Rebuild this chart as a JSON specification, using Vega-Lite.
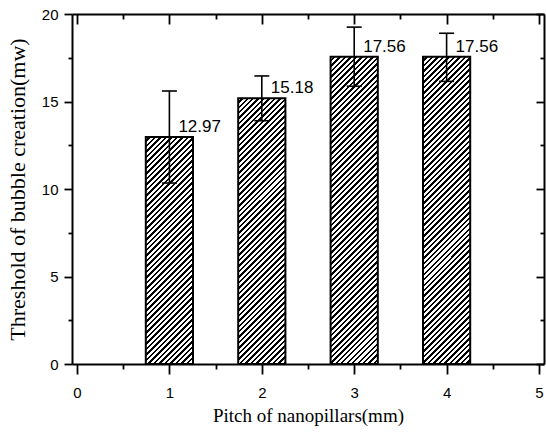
{
"$schema": "https://vega.github.io/schema/vega-lite/v6.json",
"width": 472, "height": 350,
"autosize": "none",
"padding": {"left": 72, "top": 14, "right": 2, "bottom": 72},
"background": "white",
"config": {"view": {"stroke": null}, "axis": {"grid": false, "domainColor": "black", "tickColor": "black", "labelColor": "black", "titleColor": "black", "domainWidth": 2, "tickWidth": 1.8, "labelFont": "Liberation Sans", "labelFontSize": 15, "titleFont": "Liberation Serif", "titleFontWeight": "normal"}},
"data": {"values": [
{"x": 1, "y": 12.97, "lo": 10.34, "hi": 15.6, "label": "12.97"},
{"x": 2, "y": 15.18, "lo": 13.9, "hi": 16.46, "label": "15.18"},
{"x": 3, "y": 17.56, "lo": 15.87, "hi": 19.25, "label": "17.56"},
{"x": 4, "y": 17.56, "lo": 16.15, "hi": 18.9, "label": "17.56"}
]},
"resolve": {"axis": {"x": "independent", "y": "independent"}},
"encoding": {"x": {"field": "x", "type": "quantitative", "scale": {"domain": [0, 5], "nice": false}, "axis": null}},
"layer": [
{"transform": [{"filter": "datum.x == 1"}],
 "mark": {"type": "bar", "orient": "vertical", "width": 47.2, "stroke": "black", "strokeWidth": 2,
 "fill": {"gradient": "linear", "x1": 0, "y1": 0, "x2": 0.24075, "y2": 1.1578, "stops": [
{"offset":0,"color":"#fff"},{"offset":0.011,"color":"#fff"},{"offset":0.011,"color":"#000"},{"offset":0.02,"color":"#000"},
{"offset":0.02,"color":"#fff"},{"offset":0.031,"color":"#fff"},{"offset":0.031,"color":"#000"},{"offset":0.04,"color":"#000"},
{"offset":0.04,"color":"#fff"},{"offset":0.051,"color":"#fff"},{"offset":0.051,"color":"#000"},{"offset":0.06,"color":"#000"},
{"offset":0.06,"color":"#fff"},{"offset":0.071,"color":"#fff"},{"offset":0.071,"color":"#000"},{"offset":0.08,"color":"#000"},
{"offset":0.08,"color":"#fff"},{"offset":0.091,"color":"#fff"},{"offset":0.091,"color":"#000"},{"offset":0.1,"color":"#000"},
{"offset":0.1,"color":"#fff"},{"offset":0.111,"color":"#fff"},{"offset":0.111,"color":"#000"},{"offset":0.12,"color":"#000"},
{"offset":0.12,"color":"#fff"},{"offset":0.131,"color":"#fff"},{"offset":0.131,"color":"#000"},{"offset":0.14,"color":"#000"},
{"offset":0.14,"color":"#fff"},{"offset":0.151,"color":"#fff"},{"offset":0.151,"color":"#000"},{"offset":0.16,"color":"#000"},
{"offset":0.16,"color":"#fff"},{"offset":0.171,"color":"#fff"},{"offset":0.171,"color":"#000"},{"offset":0.18,"color":"#000"},
{"offset":0.18,"color":"#fff"},{"offset":0.191,"color":"#fff"},{"offset":0.191,"color":"#000"},{"offset":0.2,"color":"#000"},
{"offset":0.2,"color":"#fff"},{"offset":0.211,"color":"#fff"},{"offset":0.211,"color":"#000"},{"offset":0.22,"color":"#000"},
{"offset":0.22,"color":"#fff"},{"offset":0.231,"color":"#fff"},{"offset":0.231,"color":"#000"},{"offset":0.24,"color":"#000"},
{"offset":0.24,"color":"#fff"},{"offset":0.251,"color":"#fff"},{"offset":0.251,"color":"#000"},{"offset":0.26,"color":"#000"},
{"offset":0.26,"color":"#fff"},{"offset":0.271,"color":"#fff"},{"offset":0.271,"color":"#000"},{"offset":0.28,"color":"#000"},
{"offset":0.28,"color":"#fff"},{"offset":0.291,"color":"#fff"},{"offset":0.291,"color":"#000"},{"offset":0.3,"color":"#000"},
{"offset":0.3,"color":"#fff"},{"offset":0.311,"color":"#fff"},{"offset":0.311,"color":"#000"},{"offset":0.32,"color":"#000"},
{"offset":0.32,"color":"#fff"},{"offset":0.331,"color":"#fff"},{"offset":0.331,"color":"#000"},{"offset":0.34,"color":"#000"},
{"offset":0.34,"color":"#fff"},{"offset":0.351,"color":"#fff"},{"offset":0.351,"color":"#000"},{"offset":0.36,"color":"#000"},
{"offset":0.36,"color":"#fff"},{"offset":0.371,"color":"#fff"},{"offset":0.371,"color":"#000"},{"offset":0.38,"color":"#000"},
{"offset":0.38,"color":"#fff"},{"offset":0.391,"color":"#fff"},{"offset":0.391,"color":"#000"},{"offset":0.4,"color":"#000"},
{"offset":0.4,"color":"#fff"},{"offset":0.411,"color":"#fff"},{"offset":0.411,"color":"#000"},{"offset":0.42,"color":"#000"},
{"offset":0.42,"color":"#fff"},{"offset":0.431,"color":"#fff"},{"offset":0.431,"color":"#000"},{"offset":0.44,"color":"#000"},
{"offset":0.44,"color":"#fff"},{"offset":0.451,"color":"#fff"},{"offset":0.451,"color":"#000"},{"offset":0.46,"color":"#000"},
{"offset":0.46,"color":"#fff"},{"offset":0.471,"color":"#fff"},{"offset":0.471,"color":"#000"},{"offset":0.48,"color":"#000"},
{"offset":0.48,"color":"#fff"},{"offset":0.491,"color":"#fff"},{"offset":0.491,"color":"#000"},{"offset":0.5,"color":"#000"},
{"offset":0.5,"color":"#fff"},{"offset":0.511,"color":"#fff"},{"offset":0.511,"color":"#000"},{"offset":0.52,"color":"#000"},
{"offset":0.52,"color":"#fff"},{"offset":0.531,"color":"#fff"},{"offset":0.531,"color":"#000"},{"offset":0.54,"color":"#000"},
{"offset":0.54,"color":"#fff"},{"offset":0.551,"color":"#fff"},{"offset":0.551,"color":"#000"},{"offset":0.56,"color":"#000"},
{"offset":0.56,"color":"#fff"},{"offset":0.571,"color":"#fff"},{"offset":0.571,"color":"#000"},{"offset":0.58,"color":"#000"},
{"offset":0.58,"color":"#fff"},{"offset":0.591,"color":"#fff"},{"offset":0.591,"color":"#000"},{"offset":0.6,"color":"#000"},
{"offset":0.6,"color":"#fff"},{"offset":0.611,"color":"#fff"},{"offset":0.611,"color":"#000"},{"offset":0.62,"color":"#000"},
{"offset":0.62,"color":"#fff"},{"offset":0.631,"color":"#fff"},{"offset":0.631,"color":"#000"},{"offset":0.64,"color":"#000"},
{"offset":0.64,"color":"#fff"},{"offset":0.651,"color":"#fff"},{"offset":0.651,"color":"#000"},{"offset":0.66,"color":"#000"},
{"offset":0.66,"color":"#fff"},{"offset":0.671,"color":"#fff"},{"offset":0.671,"color":"#000"},{"offset":0.68,"color":"#000"},
{"offset":0.68,"color":"#fff"},{"offset":0.691,"color":"#fff"},{"offset":0.691,"color":"#000"},{"offset":0.7,"color":"#000"},
{"offset":0.7,"color":"#fff"},{"offset":0.711,"color":"#fff"},{"offset":0.711,"color":"#000"},{"offset":0.72,"color":"#000"},
{"offset":0.72,"color":"#fff"},{"offset":0.731,"color":"#fff"},{"offset":0.731,"color":"#000"},{"offset":0.74,"color":"#000"},
{"offset":0.74,"color":"#fff"},{"offset":0.751,"color":"#fff"},{"offset":0.751,"color":"#000"},{"offset":0.76,"color":"#000"},
{"offset":0.76,"color":"#fff"},{"offset":0.771,"color":"#fff"},{"offset":0.771,"color":"#000"},{"offset":0.78,"color":"#000"},
{"offset":0.78,"color":"#fff"},{"offset":0.791,"color":"#fff"},{"offset":0.791,"color":"#000"},{"offset":0.8,"color":"#000"},
{"offset":0.8,"color":"#fff"},{"offset":0.811,"color":"#fff"},{"offset":0.811,"color":"#000"},{"offset":0.82,"color":"#000"},
{"offset":0.82,"color":"#fff"},{"offset":0.831,"color":"#fff"},{"offset":0.831,"color":"#000"},{"offset":0.84,"color":"#000"},
{"offset":0.84,"color":"#fff"},{"offset":0.851,"color":"#fff"},{"offset":0.851,"color":"#000"},{"offset":0.86,"color":"#000"},
{"offset":0.86,"color":"#fff"},{"offset":0.871,"color":"#fff"},{"offset":0.871,"color":"#000"},{"offset":0.88,"color":"#000"},
{"offset":0.88,"color":"#fff"},{"offset":0.891,"color":"#fff"},{"offset":0.891,"color":"#000"},{"offset":0.9,"color":"#000"},
{"offset":0.9,"color":"#fff"},{"offset":0.911,"color":"#fff"},{"offset":0.911,"color":"#000"},{"offset":0.92,"color":"#000"},
{"offset":0.92,"color":"#fff"},{"offset":0.931,"color":"#fff"},{"offset":0.931,"color":"#000"},{"offset":0.94,"color":"#000"},
{"offset":0.94,"color":"#fff"},{"offset":0.951,"color":"#fff"},{"offset":0.951,"color":"#000"},{"offset":0.96,"color":"#000"},
{"offset":0.96,"color":"#fff"},{"offset":0.971,"color":"#fff"},{"offset":0.971,"color":"#000"},{"offset":0.98,"color":"#000"},
{"offset":0.98,"color":"#fff"},{"offset":0.991,"color":"#fff"},{"offset":0.991,"color":"#000"},{"offset":1,"color":"#000"}
]}},
 "encoding": {"y": {"field": "y", "type": "quantitative", "scale": {"domain": [0, 20], "nice": false}, "axis": null}}},
{"transform": [{"filter": "datum.x == 2"}],
 "mark": {"type": "bar", "orient": "vertical", "width": 47.2, "stroke": "black", "strokeWidth": 2,
 "fill": {"gradient": "linear", "x1": 0, "y1": 0, "x2": 0.20284, "y2": 1.14163, "stops": [
{"offset":0,"color":"#fff"},{"offset":0.0096,"color":"#fff"},{"offset":0.0096,"color":"#000"},{"offset":0.0175,"color":"#000"},
{"offset":0.0175,"color":"#fff"},{"offset":0.0271,"color":"#fff"},{"offset":0.0271,"color":"#000"},{"offset":0.035,"color":"#000"},
{"offset":0.035,"color":"#fff"},{"offset":0.0446,"color":"#fff"},{"offset":0.0446,"color":"#000"},{"offset":0.0525,"color":"#000"},
{"offset":0.0525,"color":"#fff"},{"offset":0.0621,"color":"#fff"},{"offset":0.0621,"color":"#000"},{"offset":0.07,"color":"#000"},
{"offset":0.07,"color":"#fff"},{"offset":0.0796,"color":"#fff"},{"offset":0.0796,"color":"#000"},{"offset":0.0875,"color":"#000"},
{"offset":0.0875,"color":"#fff"},{"offset":0.0971,"color":"#fff"},{"offset":0.0971,"color":"#000"},{"offset":0.105,"color":"#000"},
{"offset":0.105,"color":"#fff"},{"offset":0.1146,"color":"#fff"},{"offset":0.1146,"color":"#000"},{"offset":0.1225,"color":"#000"},
{"offset":0.1225,"color":"#fff"},{"offset":0.1321,"color":"#fff"},{"offset":0.1321,"color":"#000"},{"offset":0.14,"color":"#000"},
{"offset":0.14,"color":"#fff"},{"offset":0.1496,"color":"#fff"},{"offset":0.1496,"color":"#000"},{"offset":0.1575,"color":"#000"},
{"offset":0.1575,"color":"#fff"},{"offset":0.1671,"color":"#fff"},{"offset":0.1671,"color":"#000"},{"offset":0.175,"color":"#000"},
{"offset":0.175,"color":"#fff"},{"offset":0.1846,"color":"#fff"},{"offset":0.1846,"color":"#000"},{"offset":0.1925,"color":"#000"},
{"offset":0.1925,"color":"#fff"},{"offset":0.2021,"color":"#fff"},{"offset":0.2021,"color":"#000"},{"offset":0.21,"color":"#000"},
{"offset":0.21,"color":"#fff"},{"offset":0.2196,"color":"#fff"},{"offset":0.2196,"color":"#000"},{"offset":0.2275,"color":"#000"},
{"offset":0.2275,"color":"#fff"},{"offset":0.2371,"color":"#fff"},{"offset":0.2371,"color":"#000"},{"offset":0.245,"color":"#000"},
{"offset":0.245,"color":"#fff"},{"offset":0.2546,"color":"#fff"},{"offset":0.2546,"color":"#000"},{"offset":0.2625,"color":"#000"},
{"offset":0.2625,"color":"#fff"},{"offset":0.2721,"color":"#fff"},{"offset":0.2721,"color":"#000"},{"offset":0.28,"color":"#000"},
{"offset":0.28,"color":"#fff"},{"offset":0.2896,"color":"#fff"},{"offset":0.2896,"color":"#000"},{"offset":0.2975,"color":"#000"},
{"offset":0.2975,"color":"#fff"},{"offset":0.3071,"color":"#fff"},{"offset":0.3071,"color":"#000"},{"offset":0.315,"color":"#000"},
{"offset":0.315,"color":"#fff"},{"offset":0.3246,"color":"#fff"},{"offset":0.3246,"color":"#000"},{"offset":0.3325,"color":"#000"},
{"offset":0.3325,"color":"#fff"},{"offset":0.3421,"color":"#fff"},{"offset":0.3421,"color":"#000"},{"offset":0.35,"color":"#000"},
{"offset":0.35,"color":"#fff"},{"offset":0.3596,"color":"#fff"},{"offset":0.3596,"color":"#000"},{"offset":0.3675,"color":"#000"},
{"offset":0.3675,"color":"#fff"},{"offset":0.3771,"color":"#fff"},{"offset":0.3771,"color":"#000"},{"offset":0.385,"color":"#000"},
{"offset":0.385,"color":"#fff"},{"offset":0.3946,"color":"#fff"},{"offset":0.3946,"color":"#000"},{"offset":0.4025,"color":"#000"},
{"offset":0.4025,"color":"#fff"},{"offset":0.4121,"color":"#fff"},{"offset":0.4121,"color":"#000"},{"offset":0.42,"color":"#000"},
{"offset":0.42,"color":"#fff"},{"offset":0.4296,"color":"#fff"},{"offset":0.4296,"color":"#000"},{"offset":0.4375,"color":"#000"},
{"offset":0.4375,"color":"#fff"},{"offset":0.4471,"color":"#fff"},{"offset":0.4471,"color":"#000"},{"offset":0.455,"color":"#000"},
{"offset":0.455,"color":"#fff"},{"offset":0.4646,"color":"#fff"},{"offset":0.4646,"color":"#000"},{"offset":0.4725,"color":"#000"},
{"offset":0.4725,"color":"#fff"},{"offset":0.4821,"color":"#fff"},{"offset":0.4821,"color":"#000"},{"offset":0.49,"color":"#000"},
{"offset":0.49,"color":"#fff"},{"offset":0.4996,"color":"#fff"},{"offset":0.4996,"color":"#000"},{"offset":0.5075,"color":"#000"},
{"offset":0.5075,"color":"#fff"},{"offset":0.5171,"color":"#fff"},{"offset":0.5171,"color":"#000"},{"offset":0.525,"color":"#000"},
{"offset":0.525,"color":"#fff"},{"offset":0.5346,"color":"#fff"},{"offset":0.5346,"color":"#000"},{"offset":0.5425,"color":"#000"},
{"offset":0.5425,"color":"#fff"},{"offset":0.5521,"color":"#fff"},{"offset":0.5521,"color":"#000"},{"offset":0.56,"color":"#000"},
{"offset":0.56,"color":"#fff"},{"offset":0.5696,"color":"#fff"},{"offset":0.5696,"color":"#000"},{"offset":0.5775,"color":"#000"},
{"offset":0.5775,"color":"#fff"},{"offset":0.5871,"color":"#fff"},{"offset":0.5871,"color":"#000"},{"offset":0.595,"color":"#000"},
{"offset":0.595,"color":"#fff"},{"offset":0.6046,"color":"#fff"},{"offset":0.6046,"color":"#000"},{"offset":0.6125,"color":"#000"},
{"offset":0.6125,"color":"#fff"},{"offset":0.6221,"color":"#fff"},{"offset":0.6221,"color":"#000"},{"offset":0.63,"color":"#000"},
{"offset":0.63,"color":"#fff"},{"offset":0.6396,"color":"#fff"},{"offset":0.6396,"color":"#000"},{"offset":0.6475,"color":"#000"},
{"offset":0.6475,"color":"#fff"},{"offset":0.6571,"color":"#fff"},{"offset":0.6571,"color":"#000"},{"offset":0.665,"color":"#000"},
{"offset":0.665,"color":"#fff"},{"offset":0.6746,"color":"#fff"},{"offset":0.6746,"color":"#000"},{"offset":0.6825,"color":"#000"},
{"offset":0.6825,"color":"#fff"},{"offset":0.6921,"color":"#fff"},{"offset":0.6921,"color":"#000"},{"offset":0.7,"color":"#000"},
{"offset":0.7,"color":"#fff"},{"offset":0.7096,"color":"#fff"},{"offset":0.7096,"color":"#000"},{"offset":0.7175,"color":"#000"},
{"offset":0.7175,"color":"#fff"},{"offset":0.7271,"color":"#fff"},{"offset":0.7271,"color":"#000"},{"offset":0.735,"color":"#000"},
{"offset":0.735,"color":"#fff"},{"offset":0.7446,"color":"#fff"},{"offset":0.7446,"color":"#000"},{"offset":0.7525,"color":"#000"},
{"offset":0.7525,"color":"#fff"},{"offset":0.7621,"color":"#fff"},{"offset":0.7621,"color":"#000"},{"offset":0.77,"color":"#000"},
{"offset":0.77,"color":"#fff"},{"offset":0.7796,"color":"#fff"},{"offset":0.7796,"color":"#000"},{"offset":0.7875,"color":"#000"},
{"offset":0.7875,"color":"#fff"},{"offset":0.7971,"color":"#fff"},{"offset":0.7971,"color":"#000"},{"offset":0.805,"color":"#000"},
{"offset":0.805,"color":"#fff"},{"offset":0.8146,"color":"#fff"},{"offset":0.8146,"color":"#000"},{"offset":0.8225,"color":"#000"},
{"offset":0.8225,"color":"#fff"},{"offset":0.8321,"color":"#fff"},{"offset":0.8321,"color":"#000"},{"offset":0.84,"color":"#000"},
{"offset":0.84,"color":"#fff"},{"offset":0.8496,"color":"#fff"},{"offset":0.8496,"color":"#000"},{"offset":0.8575,"color":"#000"},
{"offset":0.8575,"color":"#fff"},{"offset":0.8671,"color":"#fff"},{"offset":0.8671,"color":"#000"},{"offset":0.875,"color":"#000"},
{"offset":0.875,"color":"#fff"},{"offset":0.8846,"color":"#fff"},{"offset":0.8846,"color":"#000"},{"offset":0.8925,"color":"#000"},
{"offset":0.8925,"color":"#fff"},{"offset":0.9021,"color":"#fff"},{"offset":0.9021,"color":"#000"},{"offset":0.91,"color":"#000"},
{"offset":0.91,"color":"#fff"},{"offset":0.9196,"color":"#fff"},{"offset":0.9196,"color":"#000"},{"offset":0.9275,"color":"#000"},
{"offset":0.9275,"color":"#fff"},{"offset":0.9371,"color":"#fff"},{"offset":0.9371,"color":"#000"},{"offset":0.945,"color":"#000"},
{"offset":0.945,"color":"#fff"},{"offset":0.9546,"color":"#fff"},{"offset":0.9546,"color":"#000"},{"offset":0.9625,"color":"#000"},
{"offset":0.9625,"color":"#fff"},{"offset":0.9721,"color":"#fff"},{"offset":0.9721,"color":"#000"},{"offset":0.98,"color":"#000"},
{"offset":0.98,"color":"#fff"},{"offset":0.9896,"color":"#fff"},{"offset":0.9896,"color":"#000"},{"offset":0.9975,"color":"#000"},
{"offset":0.9975,"color":"#fff"},{"offset":1,"color":"#fff"}
]}},
 "encoding": {"y": {"field": "y", "type": "quantitative", "scale": {"domain": [0, 20], "nice": false}, "axis": null}}},
{"transform": [{"filter": "datum.x >= 3"}],
 "mark": {"type": "bar", "orient": "vertical", "width": 47.2, "stroke": "black", "strokeWidth": 2,
 "fill": {"gradient": "linear", "x1": 0, "y1": 0, "x2": 0.17311, "y2": 1.12702, "stops": [
{"offset":0,"color":"#fff"},{"offset":0.0085,"color":"#fff"},{"offset":0.0085,"color":"#000"},{"offset":0.0155,"color":"#000"},
{"offset":0.0155,"color":"#fff"},{"offset":0.024,"color":"#fff"},{"offset":0.024,"color":"#000"},{"offset":0.031,"color":"#000"},
{"offset":0.031,"color":"#fff"},{"offset":0.0395,"color":"#fff"},{"offset":0.0395,"color":"#000"},{"offset":0.0465,"color":"#000"},
{"offset":0.0465,"color":"#fff"},{"offset":0.055,"color":"#fff"},{"offset":0.055,"color":"#000"},{"offset":0.062,"color":"#000"},
{"offset":0.062,"color":"#fff"},{"offset":0.0705,"color":"#fff"},{"offset":0.0705,"color":"#000"},{"offset":0.0775,"color":"#000"},
{"offset":0.0775,"color":"#fff"},{"offset":0.086,"color":"#fff"},{"offset":0.086,"color":"#000"},{"offset":0.093,"color":"#000"},
{"offset":0.093,"color":"#fff"},{"offset":0.1015,"color":"#fff"},{"offset":0.1015,"color":"#000"},{"offset":0.1085,"color":"#000"},
{"offset":0.1085,"color":"#fff"},{"offset":0.117,"color":"#fff"},{"offset":0.117,"color":"#000"},{"offset":0.124,"color":"#000"},
{"offset":0.124,"color":"#fff"},{"offset":0.1325,"color":"#fff"},{"offset":0.1325,"color":"#000"},{"offset":0.1395,"color":"#000"},
{"offset":0.1395,"color":"#fff"},{"offset":0.148,"color":"#fff"},{"offset":0.148,"color":"#000"},{"offset":0.155,"color":"#000"},
{"offset":0.155,"color":"#fff"},{"offset":0.1635,"color":"#fff"},{"offset":0.1635,"color":"#000"},{"offset":0.1705,"color":"#000"},
{"offset":0.1705,"color":"#fff"},{"offset":0.179,"color":"#fff"},{"offset":0.179,"color":"#000"},{"offset":0.186,"color":"#000"},
{"offset":0.186,"color":"#fff"},{"offset":0.1945,"color":"#fff"},{"offset":0.1945,"color":"#000"},{"offset":0.2015,"color":"#000"},
{"offset":0.2015,"color":"#fff"},{"offset":0.21,"color":"#fff"},{"offset":0.21,"color":"#000"},{"offset":0.217,"color":"#000"},
{"offset":0.217,"color":"#fff"},{"offset":0.2255,"color":"#fff"},{"offset":0.2255,"color":"#000"},{"offset":0.2325,"color":"#000"},
{"offset":0.2325,"color":"#fff"},{"offset":0.241,"color":"#fff"},{"offset":0.241,"color":"#000"},{"offset":0.248,"color":"#000"},
{"offset":0.248,"color":"#fff"},{"offset":0.2565,"color":"#fff"},{"offset":0.2565,"color":"#000"},{"offset":0.2635,"color":"#000"},
{"offset":0.2635,"color":"#fff"},{"offset":0.272,"color":"#fff"},{"offset":0.272,"color":"#000"},{"offset":0.279,"color":"#000"},
{"offset":0.279,"color":"#fff"},{"offset":0.2875,"color":"#fff"},{"offset":0.2875,"color":"#000"},{"offset":0.2945,"color":"#000"},
{"offset":0.2945,"color":"#fff"},{"offset":0.303,"color":"#fff"},{"offset":0.303,"color":"#000"},{"offset":0.31,"color":"#000"},
{"offset":0.31,"color":"#fff"},{"offset":0.3185,"color":"#fff"},{"offset":0.3185,"color":"#000"},{"offset":0.3255,"color":"#000"},
{"offset":0.3255,"color":"#fff"},{"offset":0.334,"color":"#fff"},{"offset":0.334,"color":"#000"},{"offset":0.341,"color":"#000"},
{"offset":0.341,"color":"#fff"},{"offset":0.3495,"color":"#fff"},{"offset":0.3495,"color":"#000"},{"offset":0.3565,"color":"#000"},
{"offset":0.3565,"color":"#fff"},{"offset":0.365,"color":"#fff"},{"offset":0.365,"color":"#000"},{"offset":0.372,"color":"#000"},
{"offset":0.372,"color":"#fff"},{"offset":0.3805,"color":"#fff"},{"offset":0.3805,"color":"#000"},{"offset":0.3875,"color":"#000"},
{"offset":0.3875,"color":"#fff"},{"offset":0.396,"color":"#fff"},{"offset":0.396,"color":"#000"},{"offset":0.403,"color":"#000"},
{"offset":0.403,"color":"#fff"},{"offset":0.4115,"color":"#fff"},{"offset":0.4115,"color":"#000"},{"offset":0.4185,"color":"#000"},
{"offset":0.4185,"color":"#fff"},{"offset":0.427,"color":"#fff"},{"offset":0.427,"color":"#000"},{"offset":0.434,"color":"#000"},
{"offset":0.434,"color":"#fff"},{"offset":0.4425,"color":"#fff"},{"offset":0.4425,"color":"#000"},{"offset":0.4495,"color":"#000"},
{"offset":0.4495,"color":"#fff"},{"offset":0.458,"color":"#fff"},{"offset":0.458,"color":"#000"},{"offset":0.465,"color":"#000"},
{"offset":0.465,"color":"#fff"},{"offset":0.4735,"color":"#fff"},{"offset":0.4735,"color":"#000"},{"offset":0.4805,"color":"#000"},
{"offset":0.4805,"color":"#fff"},{"offset":0.489,"color":"#fff"},{"offset":0.489,"color":"#000"},{"offset":0.496,"color":"#000"},
{"offset":0.496,"color":"#fff"},{"offset":0.5045,"color":"#fff"},{"offset":0.5045,"color":"#000"},{"offset":0.5115,"color":"#000"},
{"offset":0.5115,"color":"#fff"},{"offset":0.52,"color":"#fff"},{"offset":0.52,"color":"#000"},{"offset":0.527,"color":"#000"},
{"offset":0.527,"color":"#fff"},{"offset":0.5355,"color":"#fff"},{"offset":0.5355,"color":"#000"},{"offset":0.5425,"color":"#000"},
{"offset":0.5425,"color":"#fff"},{"offset":0.551,"color":"#fff"},{"offset":0.551,"color":"#000"},{"offset":0.558,"color":"#000"},
{"offset":0.558,"color":"#fff"},{"offset":0.5665,"color":"#fff"},{"offset":0.5665,"color":"#000"},{"offset":0.5735,"color":"#000"},
{"offset":0.5735,"color":"#fff"},{"offset":0.582,"color":"#fff"},{"offset":0.582,"color":"#000"},{"offset":0.589,"color":"#000"},
{"offset":0.589,"color":"#fff"},{"offset":0.5975,"color":"#fff"},{"offset":0.5975,"color":"#000"},{"offset":0.6045,"color":"#000"},
{"offset":0.6045,"color":"#fff"},{"offset":0.613,"color":"#fff"},{"offset":0.613,"color":"#000"},{"offset":0.62,"color":"#000"},
{"offset":0.62,"color":"#fff"},{"offset":0.6285,"color":"#fff"},{"offset":0.6285,"color":"#000"},{"offset":0.6355,"color":"#000"},
{"offset":0.6355,"color":"#fff"},{"offset":0.644,"color":"#fff"},{"offset":0.644,"color":"#000"},{"offset":0.651,"color":"#000"},
{"offset":0.651,"color":"#fff"},{"offset":0.6595,"color":"#fff"},{"offset":0.6595,"color":"#000"},{"offset":0.6665,"color":"#000"},
{"offset":0.6665,"color":"#fff"},{"offset":0.675,"color":"#fff"},{"offset":0.675,"color":"#000"},{"offset":0.682,"color":"#000"},
{"offset":0.682,"color":"#fff"},{"offset":0.6905,"color":"#fff"},{"offset":0.6905,"color":"#000"},{"offset":0.6975,"color":"#000"},
{"offset":0.6975,"color":"#fff"},{"offset":0.706,"color":"#fff"},{"offset":0.706,"color":"#000"},{"offset":0.713,"color":"#000"},
{"offset":0.713,"color":"#fff"},{"offset":0.7215,"color":"#fff"},{"offset":0.7215,"color":"#000"},{"offset":0.7285,"color":"#000"},
{"offset":0.7285,"color":"#fff"},{"offset":0.737,"color":"#fff"},{"offset":0.737,"color":"#000"},{"offset":0.744,"color":"#000"},
{"offset":0.744,"color":"#fff"},{"offset":0.7525,"color":"#fff"},{"offset":0.7525,"color":"#000"},{"offset":0.7595,"color":"#000"},
{"offset":0.7595,"color":"#fff"},{"offset":0.768,"color":"#fff"},{"offset":0.768,"color":"#000"},{"offset":0.775,"color":"#000"},
{"offset":0.775,"color":"#fff"},{"offset":0.7835,"color":"#fff"},{"offset":0.7835,"color":"#000"},{"offset":0.7905,"color":"#000"},
{"offset":0.7905,"color":"#fff"},{"offset":0.799,"color":"#fff"},{"offset":0.799,"color":"#000"},{"offset":0.806,"color":"#000"},
{"offset":0.806,"color":"#fff"},{"offset":0.8145,"color":"#fff"},{"offset":0.8145,"color":"#000"},{"offset":0.8215,"color":"#000"},
{"offset":0.8215,"color":"#fff"},{"offset":0.83,"color":"#fff"},{"offset":0.83,"color":"#000"},{"offset":0.837,"color":"#000"},
{"offset":0.837,"color":"#fff"},{"offset":0.8455,"color":"#fff"},{"offset":0.8455,"color":"#000"},{"offset":0.8525,"color":"#000"},
{"offset":0.8525,"color":"#fff"},{"offset":0.861,"color":"#fff"},{"offset":0.861,"color":"#000"},{"offset":0.868,"color":"#000"},
{"offset":0.868,"color":"#fff"},{"offset":0.8765,"color":"#fff"},{"offset":0.8765,"color":"#000"},{"offset":0.8835,"color":"#000"},
{"offset":0.8835,"color":"#fff"},{"offset":0.892,"color":"#fff"},{"offset":0.892,"color":"#000"},{"offset":0.899,"color":"#000"},
{"offset":0.899,"color":"#fff"},{"offset":0.9075,"color":"#fff"},{"offset":0.9075,"color":"#000"},{"offset":0.9145,"color":"#000"},
{"offset":0.9145,"color":"#fff"},{"offset":0.923,"color":"#fff"},{"offset":0.923,"color":"#000"},{"offset":0.93,"color":"#000"},
{"offset":0.93,"color":"#fff"},{"offset":0.9385,"color":"#fff"},{"offset":0.9385,"color":"#000"},{"offset":0.9455,"color":"#000"},
{"offset":0.9455,"color":"#fff"},{"offset":0.954,"color":"#fff"},{"offset":0.954,"color":"#000"},{"offset":0.961,"color":"#000"},
{"offset":0.961,"color":"#fff"},{"offset":0.9695,"color":"#fff"},{"offset":0.9695,"color":"#000"},{"offset":0.9765,"color":"#000"},
{"offset":0.9765,"color":"#fff"},{"offset":0.985,"color":"#fff"},{"offset":0.985,"color":"#000"},{"offset":0.992,"color":"#000"},
{"offset":0.992,"color":"#fff"},{"offset":1,"color":"#fff"}
]}},
 "encoding": {"y": {"field": "y", "type": "quantitative", "scale": {"domain": [0, 20], "nice": false}, "axis": null}}},
{"mark": {"type": "rule", "color": "black", "strokeWidth": 1.6},
 "encoding": {"y": {"field": "lo", "type": "quantitative", "axis": null}, "y2": {"field": "hi"}}},
{"mark": {"type": "tick", "orient": "horizontal", "color": "black", "size": 15, "thickness": 1.6, "opacity": 1},
 "encoding": {"y": {"field": "hi", "type": "quantitative", "axis": null}}},
{"mark": {"type": "tick", "orient": "horizontal", "color": "black", "size": 15, "thickness": 1.6, "opacity": 1},
 "encoding": {"y": {"field": "lo", "type": "quantitative", "axis": null}}},
{"mark": {"type": "text", "align": "left", "baseline": "alphabetic", "dx": 9, "dy": -5, "font": "Liberation Sans", "fontSize": 17, "fill": "black"},
 "encoding": {"y": {"field": "y", "type": "quantitative", "axis": null}, "text": {"field": "label"}}},
{"mark": {"type": "point", "opacity": 0},
 "encoding": {
  "x": {"field": "x", "type": "quantitative", "scale": {"domain": [0, 5], "nice": false}, "axis": {"orient": "bottom", "values": [0, 1, 2, 3, 4, 5], "format": "d", "tickSize": 10, "labelPadding": 11, "title": "Pitch of nanopillars(mm)", "titleFontSize": 19, "titleY": 57, "titleBaseline": "alphabetic", "labelFlush": false, "labelOverlap": false}},
  "y": {"field": "y", "type": "quantitative", "scale": {"domain": [0, 20], "nice": false}, "axis": {"orient": "left", "values": [0, 5, 10, 15, 20], "format": "d", "tickSize": 8, "labelPadding": 6, "title": "Threshold of bubble creation(mw)", "titleFontSize": 22, "titleX": -48, "titleBaseline": "alphabetic", "labelFlush": false, "labelOverlap": false}}}},
{"mark": {"type": "point", "opacity": 0},
 "encoding": {
  "x": {"field": "x", "type": "quantitative", "axis": {"orient": "bottom", "values": [0.5, 1.5, 2.5, 3.5, 4.5], "tickSize": 5, "labels": false, "domain": false, "title": null}},
  "y": {"field": "y", "type": "quantitative", "axis": {"orient": "left", "values": [2.5, 7.5, 12.5, 17.5], "tickSize": 4, "labels": false, "domain": false, "title": null}}}},
{"mark": {"type": "point", "opacity": 0},
 "encoding": {
  "x": {"field": "x", "type": "quantitative", "axis": {"orient": "bottom", "offset": -350, "values": [0, 1, 2, 3, 4, 5], "tickSize": 10, "labels": false, "title": null}},
  "y": {"field": "y", "type": "quantitative", "axis": {"orient": "left", "offset": -472, "values": [0, 5, 10, 15, 20], "tickSize": 8, "labels": false, "title": null}}}},
{"mark": {"type": "point", "opacity": 0},
 "encoding": {
  "x": {"field": "x", "type": "quantitative", "axis": {"orient": "bottom", "offset": -350, "values": [0.5, 1.5, 2.5, 3.5, 4.5], "tickSize": 5, "labels": false, "domain": false, "title": null}},
  "y": {"field": "y", "type": "quantitative", "axis": {"orient": "left", "offset": -472, "values": [2.5, 7.5, 12.5, 17.5], "tickSize": 4, "labels": false, "domain": false, "title": null}}}}
]
}
